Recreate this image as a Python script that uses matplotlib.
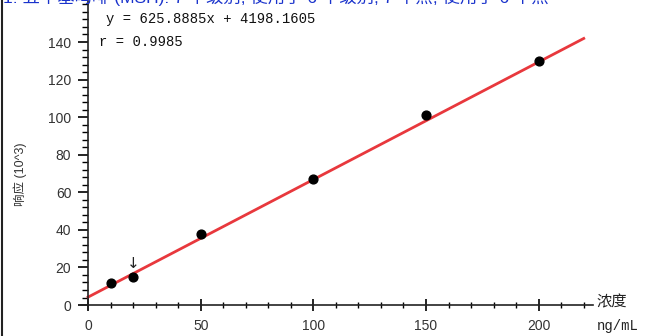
import matplotlib.pyplot as plt
from matplotlib.ticker import MultipleLocator
from matplotlib.lines import Line2D

plt.rcParams['font.family'] = ['Liberation Sans', 'Noto Sans CJK SC', 'DejaVu Sans']

# calibration points (concentration ng/mL, response 10^3)
conc = [10, 20, 50, 100, 150, 200]
resp = [11.5, 14.8, 38.0, 67.0, 101.0, 130.0]
slope = 625.8885
intercept = 4198.1605
r_value = 0.9985
title = "1: 五甲基吗啡 (MSH): 7 个级别, 使用了 6 个级别, 7 个点, 使用了 6 个点"
x_ticks = [0, 50, 100, 150, 200]
y_ticks = [0, 20, 40, 60, 80, 100, 120, 140]

fig = plt.figure(figsize=(6.45, 3.36), dpi=100)
ax = fig.add_axes([0.126, 0.081, 0.793, 0.917])

# fit line over the full x range
x_fit = [0, 220]
y_fit = [(slope * x + intercept) / 1000 for x in x_fit]
ax.plot(x_fit, y_fit, color='#e8383d', lw=2, zorder=2)
ax.scatter(conc, resp, s=40, color='black', zorder=3)

ax.set_xlim(-3, 224)
ax.set_ylim(-2, 162)
ax.spines['top'].set_visible(False)
ax.spines['right'].set_visible(False)
ax.spines['left'].set_position(('data', 0))
ax.spines['bottom'].set_position(('data', 0))
for s in ('left', 'bottom'):
    ax.spines[s].set_color('#222222')
    ax.spines[s].set_linewidth(1.2)

ax.set_xticks(x_ticks)
ax.set_yticks(y_ticks)
ax.xaxis.set_minor_locator(MultipleLocator(10))
ax.yaxis.set_minor_locator(MultipleLocator(4))
ax.tick_params(axis='x', which='major', direction='inout', length=8, width=1.2,
               labelsize=10, labelcolor='#333333', pad=6)
ax.tick_params(axis='x', which='minor', direction='inout', length=5, width=1)
ax.tick_params(axis='y', which='major', direction='out', length=7, width=1.2,
               labelsize=10, labelcolor='#333333', pad=5)
ax.tick_params(axis='y', which='minor', direction='out', length=4, width=1)

# arrow marking the point
ax.text(20, 22, '↓', ha='center', va='center', fontsize=11,
        family=['DejaVu Sans'], color='#222222')

ax.text(8, 152.5, 'y = %.4fx + %.4f' % (slope, intercept), fontsize=10,
        family=['Liberation Mono', 'DejaVu Sans Mono'], va='center', color='#111111')
ax.text(5, 140, 'r = %.4f' % r_value, fontsize=10,
        family=['Liberation Mono', 'DejaVu Sans Mono'], va='center', color='#111111')

fig.text(0.031, 0.48, '响应 (10^3)', rotation=90, ha='center', va='center',
         fontsize=9, color='#333333')
fig.text(0.925, 0.10, '浓度', fontsize=11, ha='left', va='center', color='#222222')
fig.text(0.925, 0.03, 'ng/mL', fontsize=10, ha='left', va='center', color='#222222',
         family=['Liberation Mono', 'DejaVu Sans Mono'])

# cut-off title at the very top
fig.text(0.005, 1.01, title, fontsize=12.5, color='#1a33cc', ha='left', va='center')

# left frame edge
fig.add_artist(Line2D([0.003, 0.003], [0, 1], transform=fig.transFigure,
                      color='#222222', lw=1.5))

fig.savefig('out.png', dpi=100)
